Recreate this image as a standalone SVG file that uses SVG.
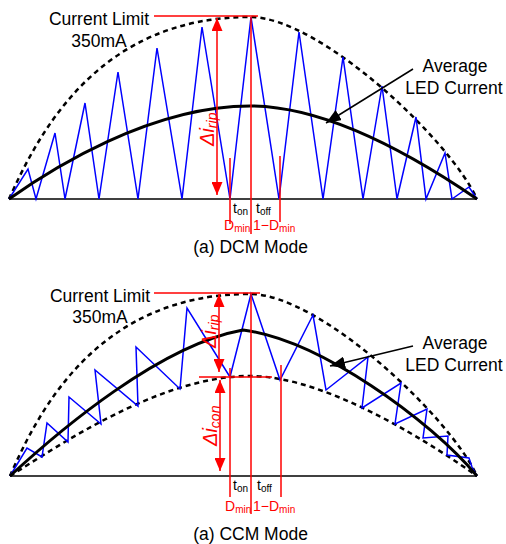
<svg xmlns="http://www.w3.org/2000/svg" width="506" height="544" viewBox="0 0 506 544">
<defs>
<style>
.txt{font-family:"Liberation Sans",Arial,sans-serif;fill:#000}
.lbl{font-size:17.5px}
.sm{font-size:14px}
.red{fill:#ff0000}
.blue{fill:none;stroke:#0000ff;stroke-width:1.5;stroke-linejoin:miter}
.avg{fill:none;stroke:#000;stroke-width:3}
.env{fill:none;stroke:#000;stroke-width:2.5;stroke-dasharray:5 4}
.base{fill:none;stroke:#000;stroke-width:1.6}
.rl{fill:none;stroke:#ff0000;stroke-width:1.5}
.ptr{fill:none;stroke:#000;stroke-width:1.5}
</style>
<marker id="ah" markerUnits="userSpaceOnUse" markerWidth="16" markerHeight="12" refX="15" refY="6" orient="auto">
<path d="M0,0 L15,6 L0,12 Z" fill="#000"/>
</marker>
<marker id="rh" markerUnits="userSpaceOnUse" markerWidth="13" markerHeight="11" refX="13" refY="5.5" orient="auto-start-reverse">
<path d="M0,0 L13,5.5 L0,11 Z" fill="#ff0000"/>
</marker>
</defs>
<rect width="506" height="544" fill="#ffffff"/>

<g id="dcm-panel">
<path class="base" d="M9,199 H477"/>
<path class="env" d="M9,199 C40,130 100,17 250,17 C320,17 450,140 477,199"/>
<path class="blue" d="M9,199 L28,169 L36,199 L55,133 L65,199 L85,103 L99,199 L118,72 L138,199 L157,48 L182,199 L202,27 L230,199 L251,17 L279,199 L299,32 L323,199 L343,57 L363,199 L382,86 L397,199 L416,117 L426,199 L445,153 L452,199 L469,187 L477,199"/>
<path class="avg" d="M9,199 C50,170 150,106 250,106 C330,106 420,160 477,199"/>
</g>

<g id="dcm-annotations">
<path class="rl" d="M154,16 H258"/>
<path class="rl" d="M217,18 V195" marker-start="url(#rh)" marker-end="url(#rh)"/>
<path class="rl" d="M230,158 V224"/>
<path class="rl" d="M251,17 V234"/>
<path class="rl" d="M280,156 V222"/>
</g>

<g id="dcm-labels">
<text class="txt lbl" x="99" y="25" text-anchor="middle">Current Limit</text>
<text class="txt lbl" x="99" y="47" text-anchor="middle">350mA</text>
<text class="txt lbl" x="455" y="72" text-anchor="middle">Average</text>
<text class="txt lbl" x="454" y="94" text-anchor="middle">LED Current</text>
<text class="txt red" transform="rotate(-90 214 146)" x="214" y="146" font-style="italic"><tspan font-size="20">Δi</tspan><tspan font-size="14" dy="3">rip</tspan></text>
<text class="txt sm" x="233" y="213">t<tspan font-size="10" dy="2">on</tspan></text>
<text class="txt sm" x="256" y="213">t<tspan font-size="10" dy="2">off</tspan></text>
<text class="txt sm red" x="224" y="230">D<tspan font-size="10" dy="2">min</tspan></text>
<text class="txt sm red" x="253" y="230">1−D<tspan font-size="10" dy="2">min</tspan></text>
<text class="txt lbl" x="250.5" y="253" text-anchor="middle">(a) DCM Mode</text>
</g>

<g id="ccm-panel">
<path class="base" d="M10,476 H477"/>
<path class="env" d="M10,476 C40,407 100,294 250,294 C320,294 450,417 477,476"/>
<path class="env" d="M10,476 C60,445 160,376 250,376 C330,376 440,450 477,476"/>
<path class="blue" d="M10,476 L27,448 L42,457 L47,423 L68,442 L69,397 L101,424 L95,370 L138,406 L136,347 L180,389 L187,308 L230,377 L251,294 L280,380 L313,315 L326,390 L368,357 L362,408 L401,383 L395,424 L427,409 L423,438 L448,436 L447,455 L469,458 L472,467 L477,476"/>
<path class="avg" d="M10,476 C60,430 160,345 243,330 C320,340 430,420 477,476"/>
</g>

<g id="ccm-annotations">
<path class="rl" d="M154,293 H260"/>
<path class="rl" d="M199,377 H272"/>
<path class="rl" d="M219,294 V372" marker-start="url(#rh)" marker-end="url(#rh)"/>
<path class="rl" d="M220,380 V471" marker-start="url(#rh)" marker-end="url(#rh)"/>
<path class="rl" d="M230,368 V497"/>
<path class="rl" d="M251,293 V514"/>
<path class="rl" d="M281,365 V497"/>
</g>

<g id="ccm-labels">
<text class="txt lbl" x="100" y="302" text-anchor="middle">Current Limit</text>
<text class="txt lbl" x="100" y="323" text-anchor="middle">350mA</text>
<text class="txt lbl" x="455" y="349" text-anchor="middle">Average</text>
<text class="txt lbl" x="454" y="371" text-anchor="middle">LED Current</text>
<text class="txt red" transform="rotate(-90 216 348)" x="216" y="348" font-style="italic"><tspan font-size="20">Δi</tspan><tspan font-size="14" dy="3">rip</tspan></text>
<text class="txt red" transform="rotate(-90 217 446)" x="217" y="446" font-style="italic"><tspan font-size="20">Δi</tspan><tspan font-size="14" dy="3">con</tspan></text>
<text class="txt sm" x="233" y="490">t<tspan font-size="10" dy="2">on</tspan></text>
<text class="txt sm" x="257" y="490">t<tspan font-size="10" dy="2">off</tspan></text>
<text class="txt sm red" x="225" y="511">D<tspan font-size="10" dy="2">min</tspan></text>
<text class="txt sm red" x="253" y="511">1−D<tspan font-size="10" dy="2">min</tspan></text>
<text class="txt lbl" x="250.5" y="540" text-anchor="middle">(a) CCM Mode</text>
</g>

<g id="connectors">
<path class="ptr" d="M413,69 L326,123" marker-end="url(#ah)"/>
<path class="ptr" d="M413,346 L330,366" marker-end="url(#ah)"/>
</g>
</svg>
